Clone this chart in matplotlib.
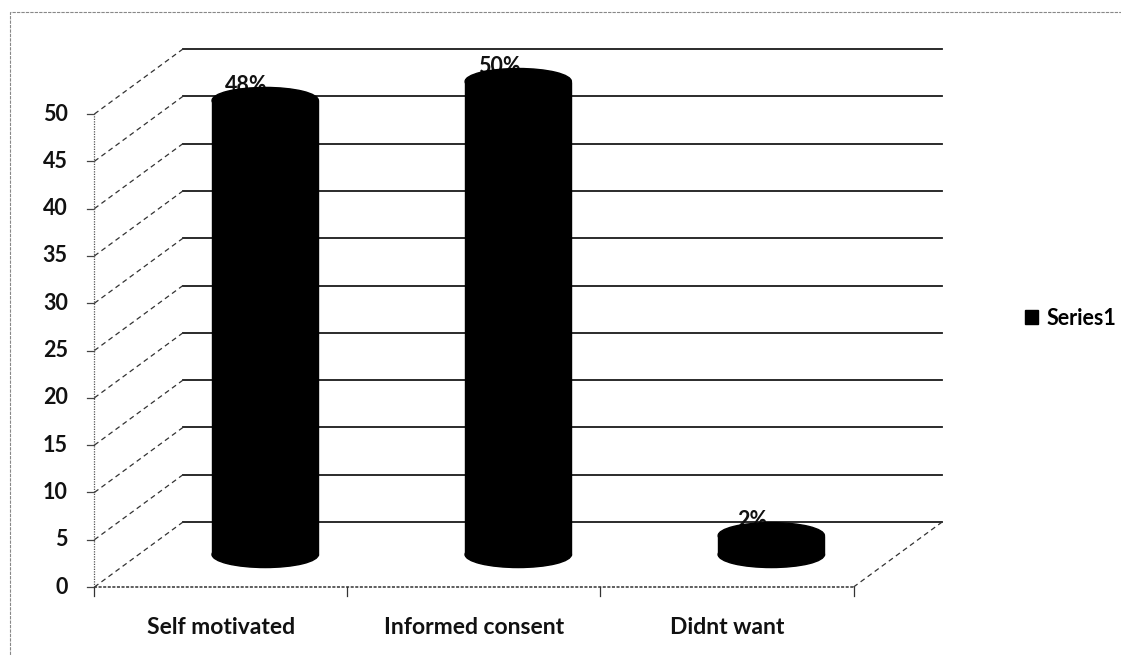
"""Excel-style 3D cylinder chart: reasons for consent."""

import matplotlib.pyplot as plt
from matplotlib.patches import Ellipse, Patch, Rectangle

categories = ["Self motivated", "Informed consent", "Didnt want"]
values = [48, 50, 2]
value_labels = ["48%", "50%", "2%"]
y_ticks = [0, 5, 10, 15, 20, 25, 30, 35, 40, 45, 50]
series_name = "Series1"

# depth offset of the back wall (category units, value units)
DX, DY = 0.35, 6.87
BAR_W = 0.42
CAP_H = 2.75
FS = 15.5

plt.rcParams["font.family"] = ["Lato", "DejaVu Sans"]
plt.rcParams["font.weight"] = "bold"

fig = plt.figure(figsize=(11.21, 6.56), dpi=100)
ax = fig.add_axes([0, 0, 1, 1])
ax.set_xlim(-0.873, 3.557)
ax.set_ylim(-7.29, 62.05)
ax.axis("off")

n = len(categories)
x_left, x_right = -0.5, n - 0.5

# back wall gridlines and side-wall diagonals
for v in y_ticks:
    ax.plot([x_left + DX, x_right + DX], [v + DY, v + DY], color="#1a1a1a", lw=1.3, zorder=1)
    ax.plot([x_left, x_left + DX], [v, v + DY], color="#333333", lw=0.9,
            ls=(0, (4, 3)), zorder=1)
    ax.plot([x_left - 0.03, x_left], [v, v], color="#444444", lw=0.9, zorder=1)
    ax.text(x_left - 0.105, v, str(v), ha="right", va="center", fontsize=FS, color="#111111")

# floor
ax.plot([x_left, x_right], [0, 0], color="#333333", lw=1.1, ls=(0, (2, 1)), zorder=1)
ax.plot([x_right, x_right + DX], [0, DY], color="#333333", lw=0.9, ls=(0, (4, 3)), zorder=1)
ax.plot([x_left, x_left], [0, y_ticks[-1]], color="#555555", lw=0.9, ls=(0, (1, 1)), zorder=1)
for i in range(n + 1):
    ax.plot([x_left + i, x_left + i], [0, -0.9], color="#333333", lw=0.9, zorder=1)

# cylinders
for i, (v, lab) in enumerate(zip(values, value_labels)):
    cx = i + DX / 2
    base = DY / 2
    ax.text(i + 0.1, base + v + 1.55, lab, ha="center", va="center", fontsize=FS,
            color="#111111", zorder=2)
    ax.add_patch(Rectangle((cx - BAR_W / 2, base), BAR_W, v, color="black", zorder=3))
    ax.add_patch(Ellipse((cx, base), BAR_W, CAP_H, color="black", zorder=3))
    ax.add_patch(Ellipse((cx, base + v), BAR_W, CAP_H, color="black", zorder=3))
    ax.text(i, -4.33, categories[i], ha="center", va="center", fontsize=FS + 1,
            color="#111111")

ax.legend(handles=[Patch(color="black", label=series_name)], loc="center left",
          bbox_to_anchor=(0.897, 0.515), bbox_transform=fig.transFigure, frameon=False,
          handlelength=0.6, handleheight=0.6, handletextpad=0.4, fontsize=FS)

# outer frame (right and bottom edges run off the picture)
fig.patches.append(Rectangle((0.009, -0.01), 1.0, 0.992, transform=fig.transFigure,
                             fill=False, ec="#888888", lw=0.8, ls=(0, (3, 1))))

fig.savefig("out.png", dpi=100)
